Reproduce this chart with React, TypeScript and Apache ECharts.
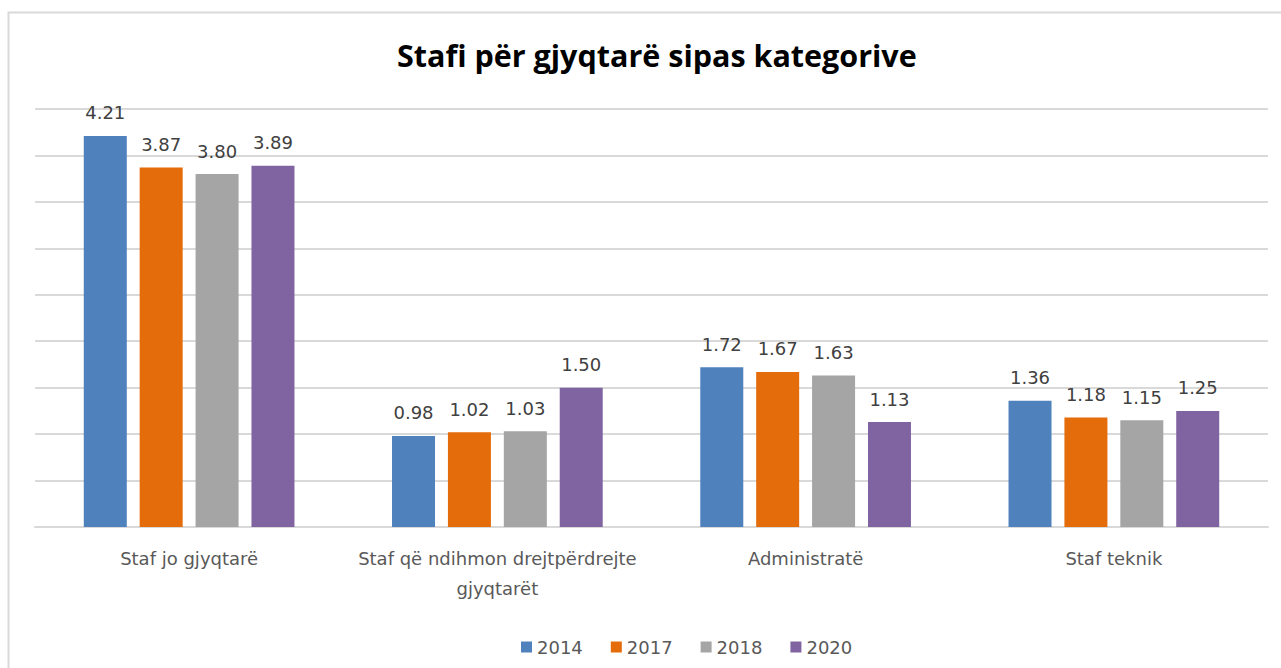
import React, { useEffect, useRef } from "react";
import * as echarts from "echarts";

const categories = [
  "Staf jo gjyqtarë",
  "Staf që ndihmon drejtpërdrejte\ngjyqtarët",
  "Administratë",
  "Staf teknik",
];
const years = ["2014", "2017", "2018", "2020"];
const v2014 = [4.21, 0.98, 1.72, 1.36];
const v2017 = [3.87, 1.02, 1.67, 1.18];
const v2018 = [3.8, 1.03, 1.63, 1.15];
const v2020 = [3.89, 1.5, 1.13, 1.25];
const colors = ["#4F81BD", "#E46C0A", "#A5A5A5", "#8064A2"];

export default function App() {
  const ref = useRef<HTMLDivElement>(null);
  useEffect(() => {
    if (!ref.current) return;
    const chart = echarts.init(ref.current, null, { renderer: "svg" });
    const seriesData = [v2014, v2017, v2018, v2020];
    const font = "'DejaVu Sans', sans-serif";
    chart.setOption({
      animation: false,
      backgroundColor: "#fff",
      title: {
        text: "Stafi për gjyqtarë sipas kategorive",
        left: 392,
        top: 34,
        textStyle: { fontFamily: "'Open Sans', sans-serif", fontWeight: "bold", fontSize: 30.5, color: "#000" },
      },
      legend: {
        data: years,
        top: 633,
        left: 516,
        icon: "rect",
        itemWidth: 11,
        itemHeight: 11,
        itemGap: 28,
        textStyle: { fontFamily: font, fontSize: 18, color: "#595959" },
      },
      grid: { left: 35, right: 13, top: 109, bottom: 141, containLabel: false },
      xAxis: {
        type: "category",
        data: categories,
        axisTick: { show: false },
        axisLine: { show: true, lineStyle: { color: "#d9d9d9", width: 2 } },
        axisLabel: {
          fontFamily: font,
          fontSize: 18,
          color: "#595959",
          margin: 16,
          lineHeight: 30,
          interval: 0,
        },
      },
      yAxis: {
        type: "value",
        min: 0,
        max: 4.5,
        interval: 0.5,
        axisLabel: { show: false },
        axisLine: { show: false },
        axisTick: { show: false },
        splitLine: { lineStyle: { color: "#d9d9d9", width: 2 } },
      },
      graphic: [
        {
          type: "rect",
          shape: { x: 8.5, y: 12.5, width: 1300, height: 700 },
          style: { fill: "none", stroke: "#d9d9d9", lineWidth: 2 },
          silent: true,
        },
      ],
      series: years.map((y, i) => ({
        name: y,
        type: "bar",
        data: seriesData[i],
        barWidth: 43,
        barGap: "30%",
        itemStyle: { color: colors[i] },
        label: {
          show: true,
          position: "top",
          distance: 14,
          formatter: (p: any) => Number(p.value).toFixed(2),
          fontFamily: font,
          fontSize: 18,
          color: "#404040",
        },
      })),
    });
    return () => chart.dispose();
  }, []);
  return (
    <div
      ref={ref}
      style={{ position: "fixed", left: 0, top: 0, width: 1281, height: 668 }}
    />
  );
}
